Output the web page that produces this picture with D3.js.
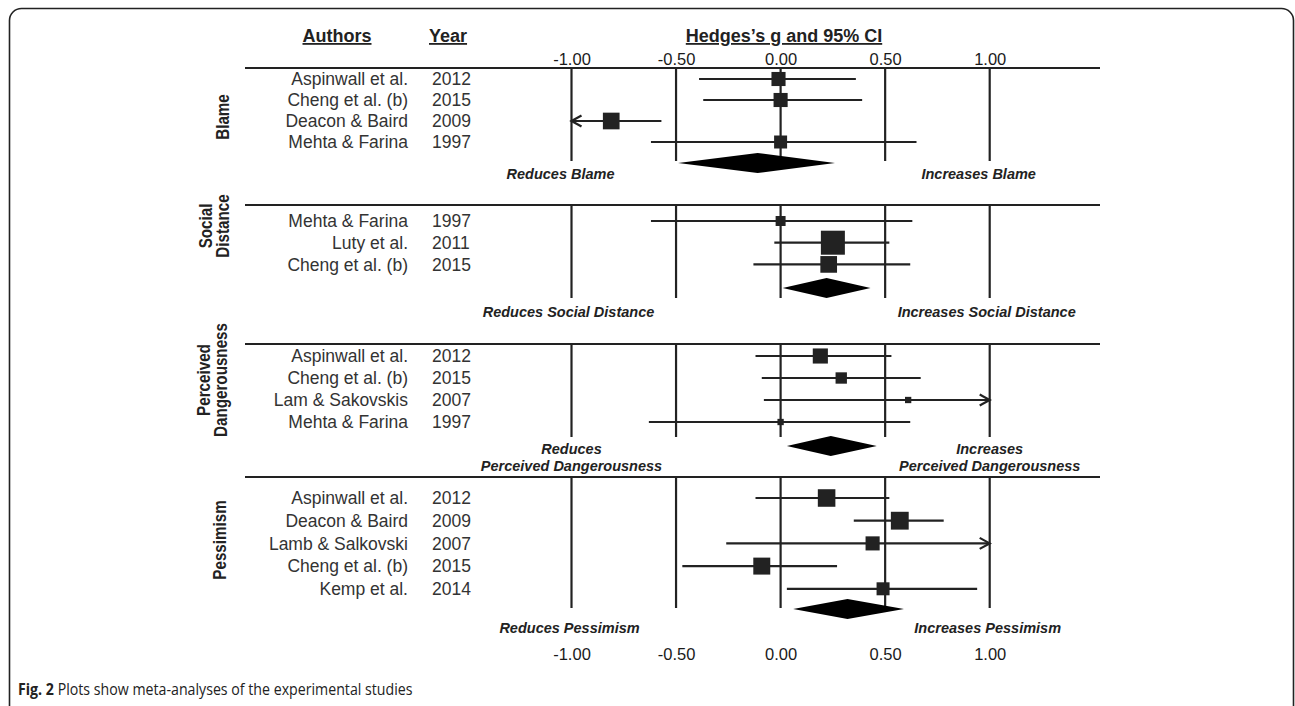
<!DOCTYPE html>
<html>
<head>
<meta charset="utf-8">
<script src="https://cdn.jsdelivr.net/npm/d3@7"></script>
<style>
  body { margin: 0; background: #fff; }
  svg { display: block; }
</style>
</head>
<body>
<div id="chart"></div>
<script>
// Chart size
const width = 1295;
const height = 706;

// Outcomes (one panel each)
const outcomes = ["Blame", "Social Distance", "Perceived Dangerousness", "Pessimism"];
const reduceLabels = [["Reduces Blame"], ["Reduces Social Distance"], ["Reduces", "Perceived Dangerousness"], ["Reduces Pessimism"]];
const increaseLabels = [["Increases Blame"], ["Increases Social Distance"], ["Increases", "Perceived Dangerousness"], ["Increases Pessimism"]];

// Studies: Hedges's g, 95% CI, relative weight
const blameStudies = [
  { author: "Aspinwall et al.", year: 2012, g: -0.01, lo: -0.39, hi: 0.36, w: 20 },
  { author: "Cheng et al. (b)", year: 2015, g: 0.00, lo: -0.37, hi: 0.39, w: 20 },
  { author: "Deacon & Baird", year: 2009, g: -0.81, lo: -1.08, hi: -0.57, w: 28 },
  { author: "Mehta & Farina", year: 1997, g: 0.00, lo: -0.62, hi: 0.65, w: 17 }
];
const socialStudies = [
  { author: "Mehta & Farina", year: 1997, g: 0.00, lo: -0.62, hi: 0.63, w: 10 },
  { author: "Luty et al.", year: 2011, g: 0.25, lo: -0.03, hi: 0.52, w: 58 },
  { author: "Cheng et al. (b)", year: 2015, g: 0.23, lo: -0.13, hi: 0.62, w: 28 }
];
const dangerStudies = [
  { author: "Aspinwall et al.", year: 2012, g: 0.19, lo: -0.12, hi: 0.53, w: 23 },
  { author: "Cheng et al. (b)", year: 2015, g: 0.29, lo: -0.09, hi: 0.67, w: 13 },
  { author: "Lam & Sakovskis", year: 2007, g: 0.61, lo: -0.08, hi: 1.10, w: 4 },
  { author: "Mehta & Farina", year: 1997, g: 0.00, lo: -0.63, hi: 0.62, w: 4 }
];
const pessimismStudies = [
  { author: "Aspinwall et al.", year: 2012, g: 0.22, lo: -0.12, hi: 0.52, w: 31 },
  { author: "Deacon & Baird", year: 2009, g: 0.57, lo: 0.35, hi: 0.78, w: 32 },
  { author: "Lamb & Salkovski", year: 2007, g: 0.44, lo: -0.26, hi: 1.10, w: 20 },
  { author: "Cheng et al. (b)", year: 2015, g: -0.09, lo: -0.47, hi: 0.27, w: 29 },
  { author: "Kemp et al.", year: 2014, g: 0.49, lo: 0.03, hi: 0.94, w: 17 }
];

// Pooled estimates (diamonds)
const pooled = [
  { g: -0.11, lo: -0.49, hi: 0.26 },
  { g: 0.22, lo: 0.01, hi: 0.43 },
  { g: 0.24, lo: 0.03, hi: 0.46 },
  { g: 0.32, lo: 0.06, hi: 0.59 }
];

// Axis ticks
const tickValues = [-1, -0.5, 0, 0.5, 1];

const studies = [blameStudies, socialStudies, dangerStudies, pessimismStudies];

// Layout of each panel (pixels)
const layout = [
  { top: 68,  row0: 79,  gap: 21,   diamond: 163, lineEnd: 161, labelY: 179, labelDx: -11, titleX: 222, titleY: 117 },
  { top: 205, row0: 221, gap: 21.7, diamond: 288, lineEnd: 298, labelY: 317, labelDx: -3,  titleX: 214, titleY: 226 },
  { top: 344, row0: 356, gap: 22,   diamond: 446, lineEnd: 437, labelY: 454, labelDx: 0,   titleX: 212, titleY: 380 },
  { top: 477, row0: 498, gap: 22.7, diamond: 609, lineEnd: 608, labelY: 633, labelDx: -2,  titleX: 219, titleY: 540 }
];

const ink = "#222";
const sans = "'Liberation Sans', Arial, Helvetica, sans-serif";

const x = d3.scaleLinear().domain([-1, 1]).range([571.5, 989.7]);
const size = d3.scaleSqrt().domain([0, 58]).range([0, 24]);

const svg = d3.select("#chart")
  .append("svg")
  .attr("width", width)
  .attr("height", height);

// Frame
svg.append("rect")
  .attr("x", 9.5).attr("y", 8.5)
  .attr("width", 1284).attr("height", 720)
  .attr("rx", 12)
  .attr("fill", "none")
  .attr("stroke", "#222")
  .attr("stroke-width", 1.6);

// Headers
const header = svg.append("g")
  .attr("font-family", sans)
  .attr("font-weight", "bold")
  .attr("font-size", 18)
  .attr("fill", ink)
  .style("text-decoration", "underline");
header.append("text").attr("x", 337).attr("y", 42).attr("text-anchor", "middle").text("Authors");
header.append("text").attr("x", 429).attr("y", 42).text("Year");
header.append("text").attr("x", 784).attr("y", 42).attr("text-anchor", "middle").text("Hedges\u2019s g and 95% CI");

// Axes (top and bottom)
const fmt = d => d.toFixed(2);
const topAxis = svg.append("g")
  .attr("transform", "translate(0,65)")
  .call(d3.axisTop(x).tickValues(tickValues).tickSize(0).tickPadding(0).tickFormat(fmt));
const bottomAxis = svg.append("g")
  .attr("transform", "translate(0,648)")
  .call(d3.axisBottom(x).tickValues(tickValues).tickSize(0).tickPadding(0).tickFormat(fmt));
[topAxis, bottomAxis].forEach(a => {
  a.select(".domain").remove();
  a.selectAll("text")
    .attr("font-family", sans)
    .attr("font-size", 16.5)
    .attr("fill", "#1a1a1a");
});

// Panels
outcomes.forEach((name, p) => {
  const L = layout[p];
  const g = svg.append("g");

  // horizontal separator
  g.append("line")
    .attr("x1", 245).attr("x2", 1100)
    .attr("y1", L.top).attr("y2", L.top)
    .attr("stroke", ink).attr("stroke-width", 2.2);

  // vertical reference lines
  g.selectAll(".vline")
    .data(tickValues)
    .join("line")
    .attr("x1", d => x(d)).attr("x2", d => x(d))
    .attr("y1", L.top).attr("y2", L.lineEnd)
    .attr("stroke", ink).attr("stroke-width", 2.2);

  // panel title (rotated, condensed)
  const words = name.split(" ");
  const title = g.append("text")
    .attr("transform", `translate(${L.titleX},${L.titleY}) rotate(-90) scale(0.8,1)`)
    .attr("text-anchor", "middle")
    .attr("font-family", sans)
    .attr("font-weight", "bold")
    .attr("font-size", 19)
    .attr("fill", ink);
  const off = -(words.length - 1) * 0.45;
  words.forEach((w, i) => {
    title.append("tspan")
      .attr("x", 0)
      .attr("dy", i === 0 ? `${off + 0.35}em` : "0.9em")
      .text(w);
  });

  const rowY = i => L.row0 + i * L.gap;
  const rows = g.selectAll(".row")
    .data(studies[p])
    .join("g")
    .attr("transform", (d, i) => `translate(0,${rowY(i)})`);

  rows.append("text")
    .attr("x", 408).attr("dy", "0.35em")
    .attr("text-anchor", "end")
    .attr("font-family", sans).attr("font-size", 17.5)
    .attr("fill", "#333")
    .text(d => d.author);
  rows.append("text")
    .attr("x", 432).attr("dy", "0.35em")
    .attr("font-family", sans).attr("font-size", 17.5)
    .attr("fill", "#333")
    .text(d => d.year);

  // confidence intervals (clipped at axis ends)
  rows.append("line")
    .attr("x1", d => x(Math.max(d.lo, -1)))
    .attr("x2", d => x(Math.min(d.hi, 1)))
    .attr("stroke", ink).attr("stroke-width", 2.2);

  // arrow heads for truncated intervals
  rows.filter(d => d.hi > 1).append("path")
    .attr("d", `M${x(1) - 10},-5.5L${x(1)},0L${x(1) - 10},5.5`)
    .attr("fill", "none").attr("stroke", ink).attr("stroke-width", 2.2);
  rows.filter(d => d.lo < -1).append("path")
    .attr("d", `M${x(-1) + 10},-5.5L${x(-1)},0L${x(-1) + 10},5.5`)
    .attr("fill", "none").attr("stroke", ink).attr("stroke-width", 2.2);

  // point estimate squares
  rows.append("rect")
    .attr("x", d => x(d.g) - size(d.w) / 2)
    .attr("y", d => -size(d.w) / 2)
    .attr("width", d => size(d.w))
    .attr("height", d => size(d.w))
    .attr("fill", ink);

  // pooled diamond
  const pd = pooled[p];
  const h = 10;
  g.append("path")
    .attr("d", `M${x(pd.lo)},${L.diamond}L${x(pd.g)},${L.diamond - h}L${x(pd.hi)},${L.diamond}L${x(pd.g)},${L.diamond + h}Z`)
    .attr("fill", "#000");

  // direction labels
  const dirLabel = (lines, cx) => {
    const t = g.append("text")
      .attr("text-anchor", "middle")
      .attr("font-family", sans)
      .attr("font-weight", "bold")
      .attr("font-style", "italic")
      .attr("font-size", 14.5)
      .attr("fill", ink);
    lines.forEach((s, i) => {
      t.append("tspan")
        .attr("x", cx)
        .attr("y", L.labelY + i * 17)
        .text(s);
    });
  };
  dirLabel(reduceLabels[p], x(-1) + L.labelDx);
  dirLabel(increaseLabels[p], x(1) + L.labelDx);
});

// Caption
const cap = svg.append("text")
  .attr("transform", "translate(18,695) scale(0.86,1)")
  .attr("font-family", "'Open Sans', sans-serif")
  .attr("font-size", 16.5)
  .attr("fill", "#222");
cap.append("tspan").attr("font-weight", "bold").text("Fig. 2");
cap.append("tspan").text(" Plots show meta-analyses of the experimental studies");
</script>
</body>
</html>
